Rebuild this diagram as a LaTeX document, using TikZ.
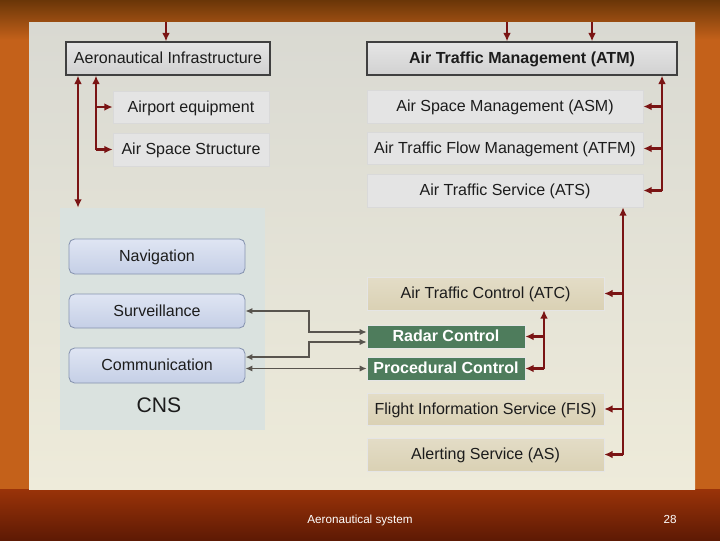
\documentclass[tikz,border=0pt]{standalone}
\usepackage{fontspec}
\setmainfont{Liberation Sans}
\usetikzlibrary{arrows.meta}

\definecolor{slidetop}{HTML}{6A3608}
\definecolor{slidemid}{HTML}{C4611A}
\definecolor{slidelow}{HTML}{9A3309}
\definecolor{slidebot}{HTML}{5E1A04}
\definecolor{paneltop}{HTML}{D9D9D2}
\definecolor{panelbot}{HTML}{EEEBDA}
\definecolor{linkred}{HTML}{7A1414}
\definecolor{linkgray}{HTML}{58544E}
\definecolor{boxgray}{HTML}{E4E4E4}
\definecolor{cnsfill}{HTML}{DAE2DF}
\definecolor{cnstop}{HTML}{DFE5F3}
\definecolor{cnsbot}{HTML}{C5CFE6}
\definecolor{cnsedge}{HTML}{8794B0}
\definecolor{tan}{HTML}{DAD1B4}
\definecolor{radargreen}{HTML}{4E7C5C}
\definecolor{inkblack}{HTML}{1C1C1C}

\newcommand{\px}{0.025cm}

\tikzset{
  every node/.style={font=\fontsize{11.4pt}{13pt}\selectfont, text=inkblack, inner sep=0pt,
    text height=0.72em, text depth=0pt},
  headbox/.style={draw=black!75, line width=0.9pt, top color=white!90!black, bottom color=white!82!black},
  subbox/.style={fill=boxgray, draw=black!15, line width=0.4pt},
  cnsitem/.style={rounded corners=4pt, draw=cnsedge, line width=0.6pt, top color=cnstop, bottom color=cnsbot},
  tanbox/.style={top color=tan!75!white, bottom color=tan, draw=black!10, line width=0.3pt},
  greenbox/.style={fill=radargreen, draw=black!10, text=white, font=\fontsize{11.4pt}{13pt}\selectfont\bfseries},
  redlink/.style={draw=linkred, line width=1.8pt, -{Latex[length=6pt,width=5.5pt]}},
  graylink/.style={draw=linkgray, line width=1.4pt, {Latex[length=5pt,width=4.5pt]}-{Latex[length=5pt,width=4.5pt]}}
}

\begin{document}
\begin{tikzpicture}[x=\px, y=-\px]
\useasboundingbox (0,0) rectangle (720,540);
% slide background
\fill[slidemid] (0,0) rectangle (720,540);
\shade[top color=slidetop, bottom color=slidemid] (0,0) rectangle (720,40);
\shade[top color=slidelow, bottom color=slidebot] (0,489) rectangle (720,540);
\shade[top color=paneltop, bottom color=panelbot] (29,22) rectangle (695,489);

% left column
\node[headbox, minimum width=204*\px, minimum height=33*\px] (infra) at (168,58.5) {Aeronautical Infrastructure};
\node[subbox, minimum width=156*\px, minimum height=32*\px] (airport) at (191,107) {Airport equipment};
\node[subbox, minimum width=156*\px, minimum height=33*\px] (asstruct) at (191,149.5) {Air Space Structure};

\node[fill=cnsfill, minimum width=205*\px, minimum height=222*\px] (cns) at (162.5,319) {};
\node[cnsitem, minimum width=176*\px, minimum height=35*\px] (nav) at (157,256.5) {Navigation};
\node[cnsitem, minimum width=176*\px, minimum height=34*\px] (surv) at (157,311) {Surveillance};
\node[cnsitem, minimum width=176*\px, minimum height=35*\px] (comm) at (157,365.5) {Communication};
\node[font=\fontsize{15pt}{17pt}\selectfont] (cnslabel) at (159,407) {CNS};

% right column
\node[headbox, minimum width=310*\px, minimum height=33*\px, font=\fontsize{11.4pt}{13pt}\selectfont\bfseries] (atm) at (522,58.5) {Air Traffic Management (ATM)};
\node[subbox, minimum width=276*\px, minimum height=33*\px] (asm) at (505,106.5) {Air Space Management (ASM)};
\node[subbox, minimum width=276*\px, minimum height=32*\px] (atfm) at (505,148.5) {Air Traffic Flow Management (ATFM)};
\node[subbox, minimum width=276*\px, minimum height=33*\px] (ats) at (505,190.5) {Air Traffic Service (ATS)};

\node[tanbox, minimum width=237*\px, minimum height=33*\px] (atc) at (485.5,293.5) {Air Traffic Control (ATC)};
\node[greenbox, minimum width=158*\px, minimum height=23*\px] (radar) at (446,336.5) {Radar Control};
\node[greenbox, minimum width=158*\px, minimum height=23*\px] (proc) at (446,368.5) {Procedural Control};
\node[tanbox, minimum width=237*\px, minimum height=32*\px] (fis) at (485.5,409) {Flight Information Service (FIS)};
\node[tanbox, minimum width=237*\px, minimum height=33*\px] (as) at (485.5,454.5) {Alerting Service (AS)};

% red links
\coordinate (in1) at (166,22);
\coordinate (in2) at (507,22);
\coordinate (in3) at (592,22);
\draw[redlink] (in1) -- (in1 |- infra.north);
\draw[redlink] (in2) -- (in2 |- atm.north);
\draw[redlink] (in3) -- (in3 |- atm.north);

\coordinate (j1) at (96,149.5);
\draw[redlink] (j1) -- (j1 |- infra.south);
\draw[redlink] (j1) -- (asstruct.west);
\draw[redlink] (j1 |- airport.west) -- (airport.west);
\coordinate (l1) at (78,0);
\draw[redlink, {Latex[length=6pt,width=5.5pt]}-{Latex[length=6pt,width=5.5pt]}] (l1 |- infra.south) -- (l1 |- cns.north);

\coordinate (j2) at (662,190.5);
\draw[redlink] (j2) -- (j2 |- atm.south);
\draw[redlink] (j2) -- (ats.east);
\draw[redlink] (j2 |- asm.east) -- (asm.east);
\draw[redlink] (j2 |- atfm.east) -- (atfm.east);

\coordinate (j3) at (623,454.5);
\draw[redlink] (j3) -- (j3 |- ats.south);
\draw[redlink] (j3) -- (as.east);
\draw[redlink] (j3 |- atc.east) -- (atc.east);
\draw[redlink] (j3 |- fis.east) -- (fis.east);

\coordinate (j4) at (544,368.5);
\draw[redlink] (j4) -- (j4 |- atc.south);
\draw[redlink] (j4) -- (proc.east);
\draw[redlink] (j4 |- radar.east) -- (radar.east);

% gray links
\coordinate (k1) at (309,332);
\coordinate (k2) at (309,342);
\draw[graylink] (surv.east) -| (k1) -- (k1 -| radar.west);
\draw[graylink] ([yshift=6pt]comm.east) -| (k2) -- (k2 -| radar.west);
\draw[graylink] (comm.east |- proc.west) -- (proc.west);

% footer
\node[text=white, font=\fontsize{8.3pt}{10pt}\selectfont] (foot) at (360,518) {Aeronautical system};
\node[text=white, font=\fontsize{8.3pt}{10pt}\selectfont] (page) at (670,518) {28};
\end{tikzpicture}
\end{document}
